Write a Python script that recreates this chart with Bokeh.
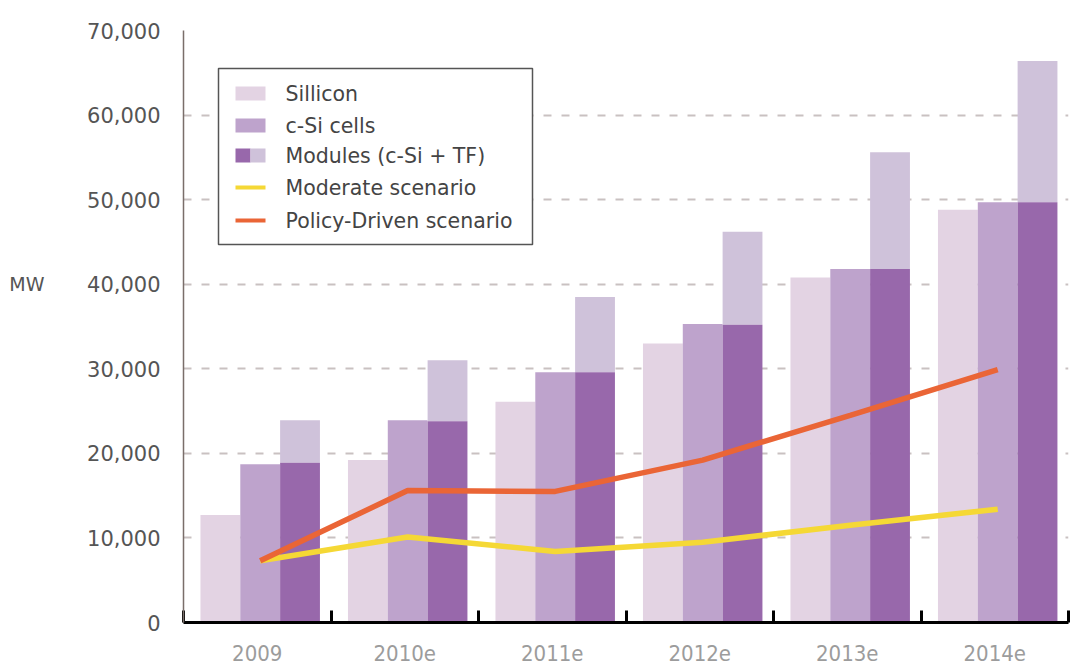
from bokeh.plotting import figure
from bokeh.models import (ColumnDataSource, FixedTicker, NumeralTickFormatter, Range1d,
                          BoxAnnotation, Label, LinearAxis)
from bokeh.embed import file_html
from bokeh.resources import INLINE

# ---------------- data ----------------
years = ["2009", "2010e", "2011e", "2012e", "2013e", "2014e"]
silicon = [12700, 19200, 26100, 33000, 40800, 48800]
csi_cells = [18700, 23900, 29600, 35300, 41800, 49700]
modules_csi = [18900, 23800, 29600, 35200, 41800, 49700]
modules_total = [23900, 31000, 38500, 46200, 55600, 66400]
moderate = [7300, 10100, 8400, 9500, 11500, 13400]
policy = [7300, 15600, 15500, 19200, 24500, 29900]
y_ticks = [0, 10000, 20000, 30000, 40000, 50000, 60000, 70000]
y_unit = "MW"

# ---------------- styles ----------------
C_SIL = "#e3d3e3"
C_CSI = "#bea3cc"
C_MOD = "#9868ab"
C_MOD_TF = "#cfc2da"
C_MOD_LINE = "#f5d835"
C_POL_LINE = "#ea6536"
LABEL_FONT = "DejaVu Sans"
XFONT = "'Liberation Sans Narrow', 'DejaVu Sans Condensed', 'Liberation Sans'"

n = len(years)
idx = list(range(n))
BW = 0.27
x_sil = [i + 0.25 for i in idx]
x_csi = [i + 0.52 for i in idx]
x_mod = [i + 0.79 for i in idx]

W, H = 1073, 666
FL, FR, FT, FB = 183, 1068, 30, 622  # frame in page px

p = figure(width=W, height=H, output_backend="svg", toolbar_location=None,
           x_range=Range1d(0, n), y_range=Range1d(0, 70000),
           min_border_left=FL, min_border_right=W - FR,
           min_border_top=FT, min_border_bottom=H - FB)
p.outline_line_color = None
p.background_fill_color = "white"

src = ColumnDataSource(dict(xs=x_sil, xc=x_csi, xm=x_mod, sil=silicon, csi=csi_cells,
                            modc=modules_csi, modt=modules_total, mode=moderate, pol=policy))

p.vbar(x="xs", top="sil", width=BW, source=src, fill_color=C_SIL, line_color=None)
p.vbar(x="xc", top="csi", width=BW, source=src, fill_color=C_CSI, line_color=None)
p.vbar(x="xm", bottom="modc", top="modt", width=BW, source=src, fill_color=C_MOD_TF, line_color=None)
p.vbar(x="xm", top="modc", width=BW, source=src, fill_color=C_MOD, line_color=None)

p.line(x="xc", y="mode", source=src, line_color=C_MOD_LINE, line_width=5.5)
p.line(x="xc", y="pol", source=src, line_color=C_POL_LINE, line_width=5.5)

# grid
p.xgrid.grid_line_color = None
p.ygrid.ticker = FixedTicker(ticks=y_ticks[1:])
p.ygrid.grid_line_color = "#c9c1c1"
p.ygrid.grid_line_width = 2
p.ygrid.grid_line_dash = "8 10"

# y axis
p.yaxis.ticker = FixedTicker(ticks=y_ticks)
p.yaxis.formatter = NumeralTickFormatter(format="0,0")
p.yaxis.major_tick_line_color = None
p.yaxis.minor_tick_line_color = None
p.yaxis.major_tick_in = 0
p.yaxis.major_tick_out = 0
p.yaxis.axis_line_color = "#7a6e6a"
p.yaxis.axis_line_width = 1.5
p.yaxis.major_label_standoff = 23
p.yaxis.major_label_text_font = LABEL_FONT
p.yaxis.major_label_text_font_size = "21px"
p.yaxis.major_label_text_color = "#555555"

# unit label as an extra left axis with a single labelled tick
unit_axis = LinearAxis(ticker=FixedTicker(ticks=[y_ticks[4]]),
                       major_label_overrides={y_ticks[4]: y_unit},
                       axis_line_color=None, major_tick_line_color=None,
                       minor_tick_line_color=None, major_tick_in=0, major_tick_out=0,
                       major_label_standoff=40, major_label_text_font=LABEL_FONT,
                       major_label_text_font_size="19px", major_label_text_color="#555555")
p.add_layout(unit_axis, "left")

# x axis
p.xaxis.ticker = FixedTicker(ticks=[i + 0.5 for i in idx], minor_ticks=list(range(n + 1)))
p.xaxis.major_label_overrides = {i + 0.5: years[i] for i in idx}
p.xaxis.major_tick_line_color = None
p.xaxis.major_tick_in = 0
p.xaxis.major_tick_out = 0
p.xaxis.minor_tick_line_color = "black"
p.xaxis.minor_tick_line_width = 3
p.xaxis.minor_tick_in = 12
p.xaxis.minor_tick_out = 0
p.xaxis.axis_line_color = "black"
p.xaxis.axis_line_width = 3
p.xaxis.major_label_standoff = 22
p.xaxis.major_label_text_font = XFONT
p.xaxis.major_label_text_font_size = "22px"
p.xaxis.major_label_text_color = "#9c9c9c"

# pixel -> data helpers for the legend
def dx(px):
    return (px - FL) / (FR - FL) * n

def dy(py):
    return (FB - py) / (FB - FT) * 70000

# legend (drawn manually)
p.add_layout(BoxAnnotation(left=dx(218), right=dx(532), top=dy(68), bottom=dy(244),
                           fill_color="white", fill_alpha=1, line_color="#555555",
                           line_width=1.5, line_alpha=1))
rows = [93, 125, 155, 187, 220]
labels = ["Sillicon", "c-Si cells", "Modules (c-Si + TF)", "Moderate scenario", "Policy-Driven scenario"]
sw = [(C_SIL, None), (C_CSI, None), (C_MOD, C_MOD_TF), (C_MOD_LINE, "line"), (C_POL_LINE, "line")]
for ry, lab, (c, kind) in zip(rows, labels, sw):
    if kind == "line":
        p.add_layout(BoxAnnotation(left=dx(235), right=dx(265), top=dy(ry - 2), bottom=dy(ry + 2),
                                   fill_color=c, fill_alpha=1, line_color=None))
    elif kind is None:
        p.add_layout(BoxAnnotation(left=dx(235), right=dx(265), top=dy(ry - 7), bottom=dy(ry + 7),
                                   fill_color=c, fill_alpha=1, line_color=None))
    else:
        p.add_layout(BoxAnnotation(left=dx(235), right=dx(250), top=dy(ry - 7), bottom=dy(ry + 7),
                                   fill_color=c, fill_alpha=1, line_color=None))
        p.add_layout(BoxAnnotation(left=dx(250), right=dx(265), top=dy(ry - 7), bottom=dy(ry + 7),
                                   fill_color=kind, fill_alpha=1, line_color=None))
    p.add_layout(Label(x=dx(285), y=dy(ry), text=lab, text_font=LABEL_FONT,
                       text_font_size="20.5px", text_color="#444444", text_baseline="middle"))

open("out.html", "w").write(file_html(p, INLINE))
